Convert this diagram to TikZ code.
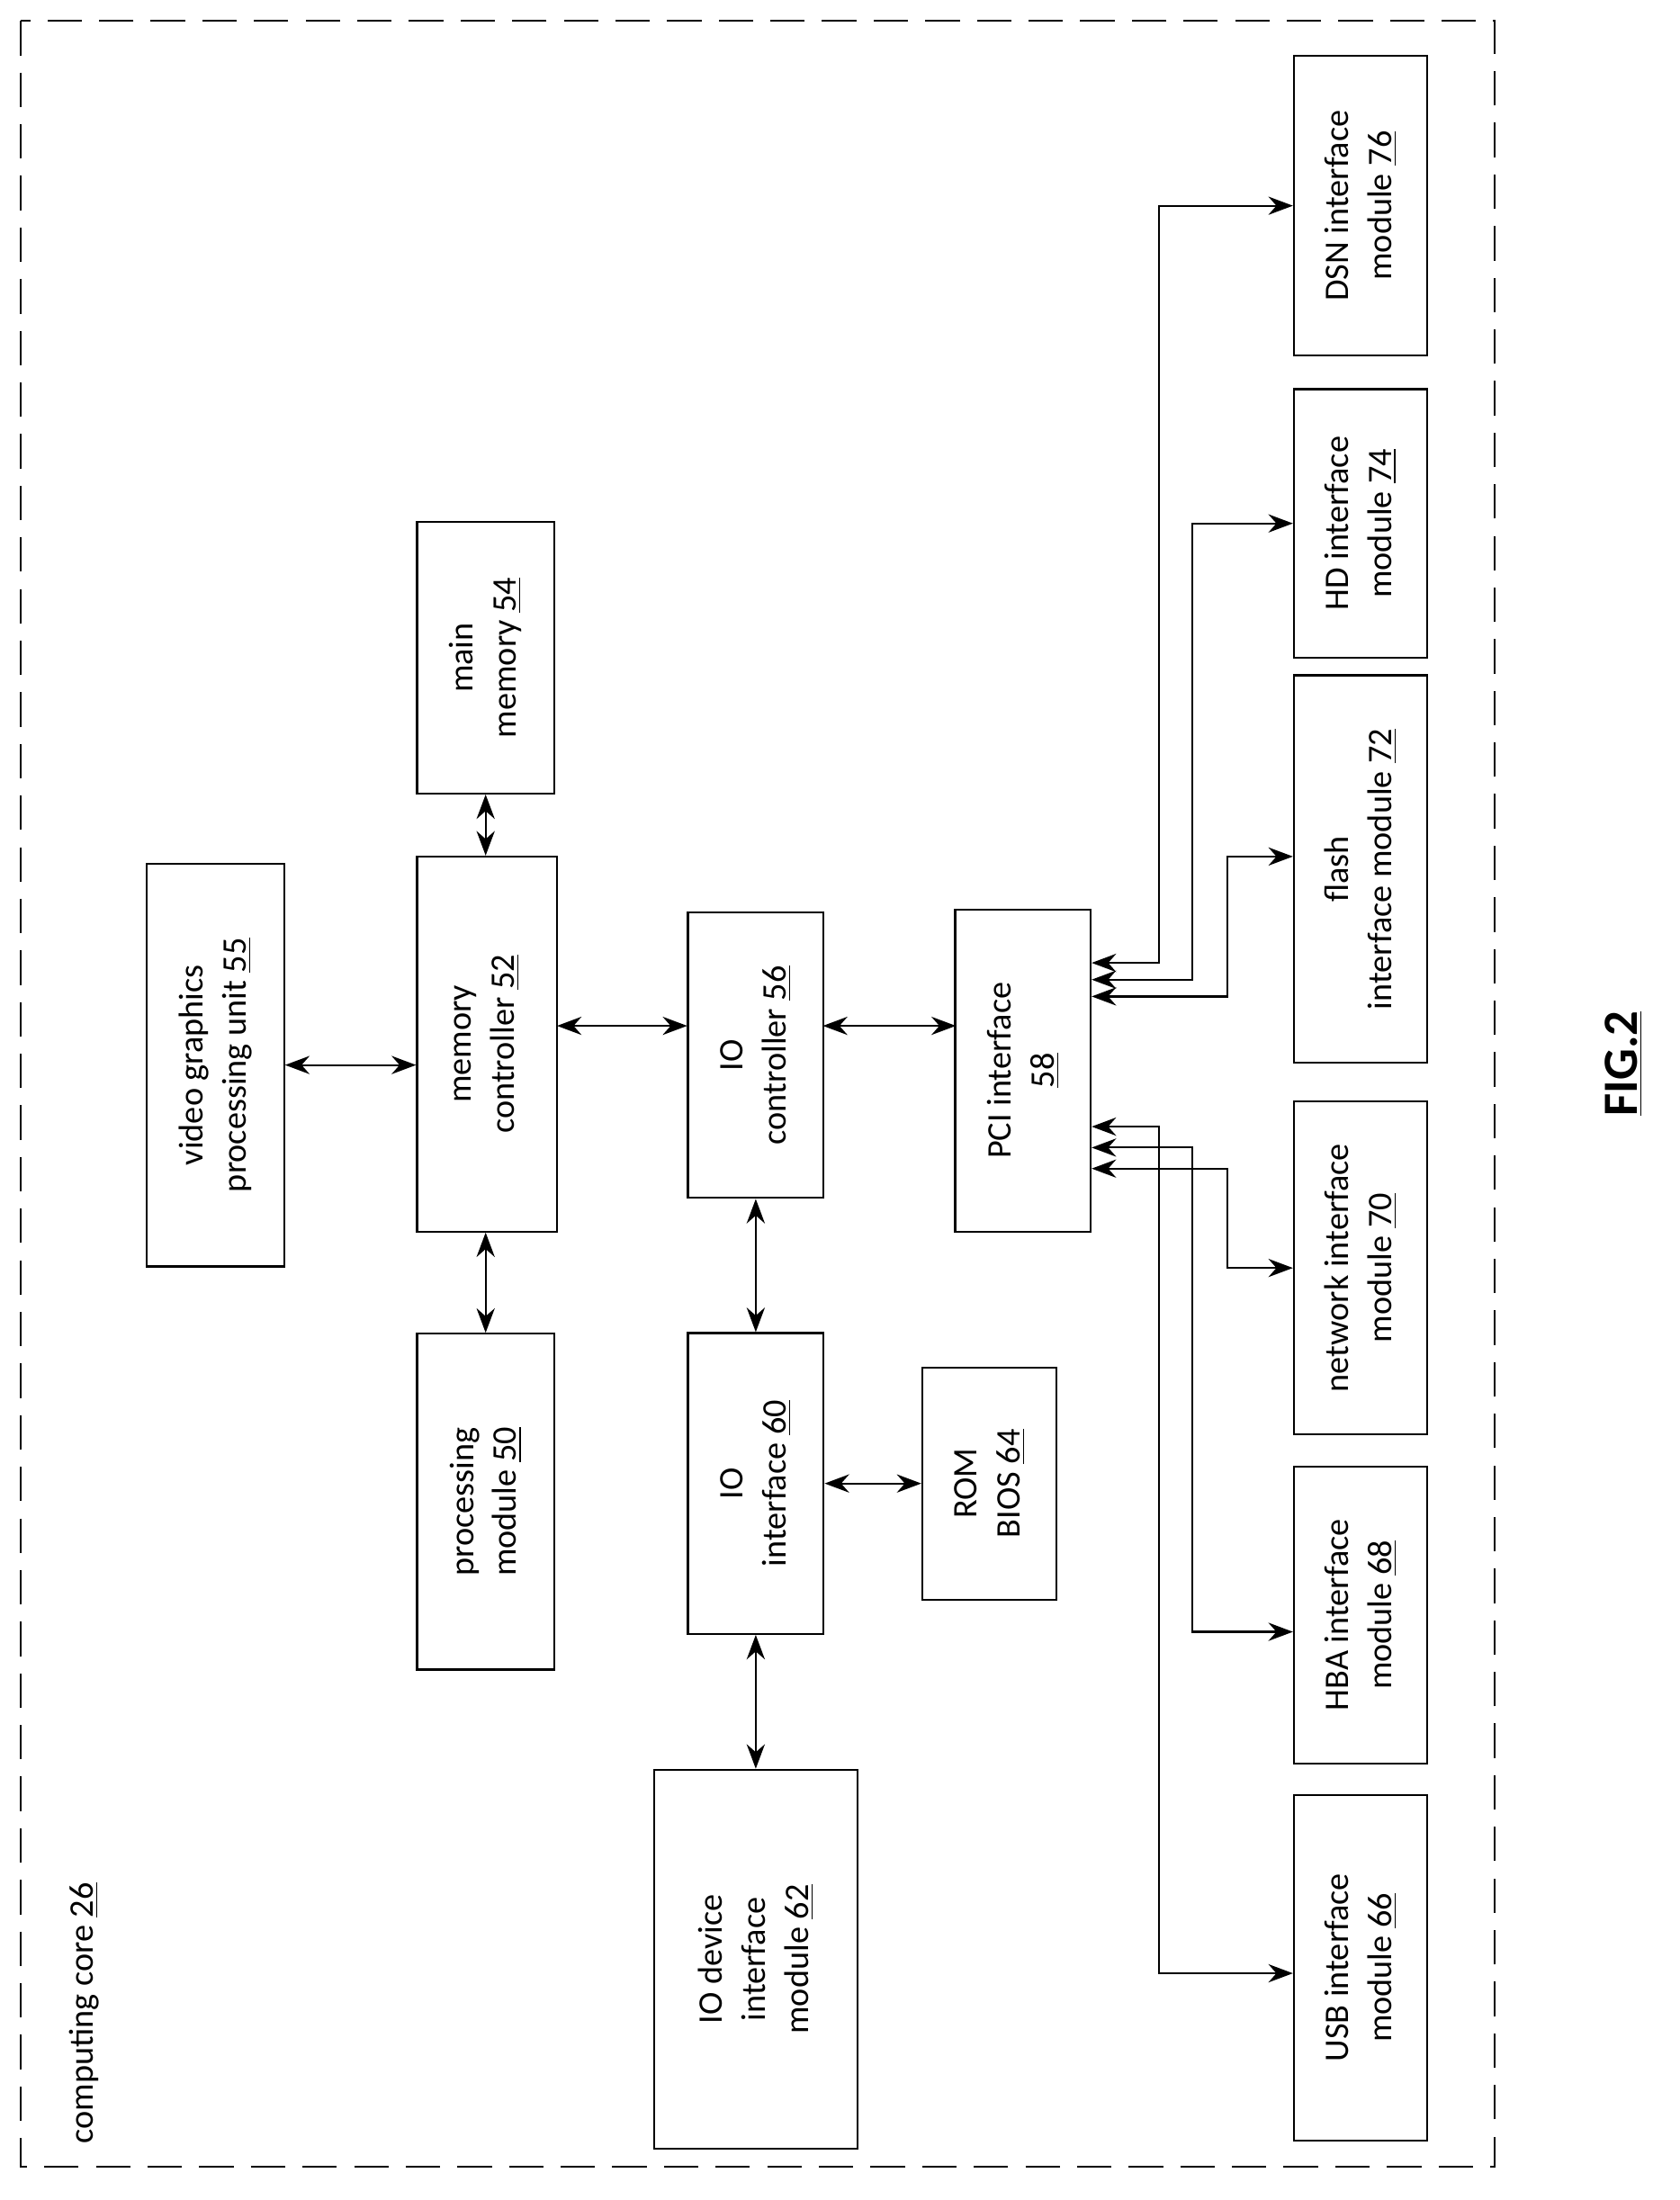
\documentclass[tikz,border=0pt]{standalone}
\usepackage{fontspec}
\setmainfont{Carlito}
\usetikzlibrary{arrows.meta}
\begin{document}
\begin{tikzpicture}[
  x=0.02cm, y=-0.02cm,
  every node/.style={font=\fontsize{14}{17.5}\selectfont},
  blk/.style={draw, thick, rotate=90, align=center, inner sep=2pt},
  link/.style={{Stealth[length=3.5mm,width=2.6mm]}-{Stealth[length=3.5mm,width=2.6mm]}, thick}
]
\useasboundingbox (0,0) rectangle (1200,1572);

% frame
\draw[thick, dash pattern=on 14pt off 7pt] (15,15) rectangle (1068,1548);
\node[rotate=90, anchor=west] (core) at (60,1538) {computing core \underline{26}};

% central blocks
\node[blk, minimum width=5.76cm, minimum height=1.96cm] (vgpu) at (154,761) {video graphics\\processing unit \underline{55}};
\node[blk, minimum width=5.36cm, minimum height=2cm] (memc) at (348,746) {memory\\controller \underline{52}};
\node[blk, minimum width=3.88cm, minimum height=1.96cm] (mem) at (347,470) {main\\memory \underline{54}};
\node[blk, minimum width=4.8cm, minimum height=1.96cm] (proc) at (347,1073) {processing\\module \underline{50}};
\node[blk, minimum width=4.08cm, minimum height=1.94cm] (ioc) at (540,754) {IO\\controller \underline{56}};
\node[blk, minimum width=4.3cm, minimum height=1.94cm] (ioi) at (540,1060) {IO\\interface \underline{60}};
\node[blk, minimum width=3.32cm, minimum height=1.92cm] (rom) at (707,1060) {ROM\\BIOS \underline{64}};
\node[blk, minimum width=5.42cm, minimum height=2.9cm] (iodev) at (540,1400) {IO device\\interface\\module \underline{62}};
\node[blk, minimum width=4.6cm, minimum height=1.94cm] (pci) at (731,765) {PCI interface\\\underline{58}};

% interface modules
\node[blk, minimum width=4.28cm, minimum height=1.9cm] (dsn) at (972,147) {DSN interface\\module \underline{76}};
\node[blk, minimum width=3.84cm, minimum height=1.9cm] (hd) at (972,374) {HD interface\\module \underline{74}};
\node[blk, minimum width=5.54cm, minimum height=1.9cm] (flash) at (972,621) {flash\\interface module \underline{72}};
\node[blk, minimum width=4.76cm, minimum height=1.9cm] (net) at (972,906) {network interface\\module \underline{70}};
\node[blk, minimum width=4.24cm, minimum height=1.9cm] (hba) at (972,1154) {HBA interface\\module \underline{68}};
\node[blk, minimum width=4.94cm, minimum height=1.9cm] (usb) at (972,1406) {USB interface\\module \underline{66}};

\node[rotate=90, font=\fontsize{20}{24}\selectfont\bfseries] (fig) at (1160,760) {\underline{FIG.2}};

% links
\draw[link] (vgpu.south) -- (memc.north |- vgpu.south);
\draw[link] (memc.east -| mem) -- (mem.west);
\draw[link] (memc.west -| proc) -- (proc.east);
\draw[link] (398,733) -- (491,733);
\draw[link] (588,733) -- (683,733);
\draw[link] (ioc.west) -- (ioi.east);
\draw[link] (ioi.south) -- (rom.north);
\draw[link] (ioi.west) -- (iodev.east);

% PCI bus
\draw[link] (780,688) -| (828,147) -- (dsn.north);
\draw[link] (780,700) -| (852,374) -- (hd.north);
\draw[link] (780,712) -| (877,612) -- (flash.north |- 0,612);
\draw[link] (780,835) -| (877,906) -- (net.north);
\draw[link] (780,820) -| (852,1166) -- (hba.north |- 0,1166);
\draw[link] (780,805) -| (828,1410) -- (usb.north |- 0,1410);
\end{tikzpicture}
\end{document}
